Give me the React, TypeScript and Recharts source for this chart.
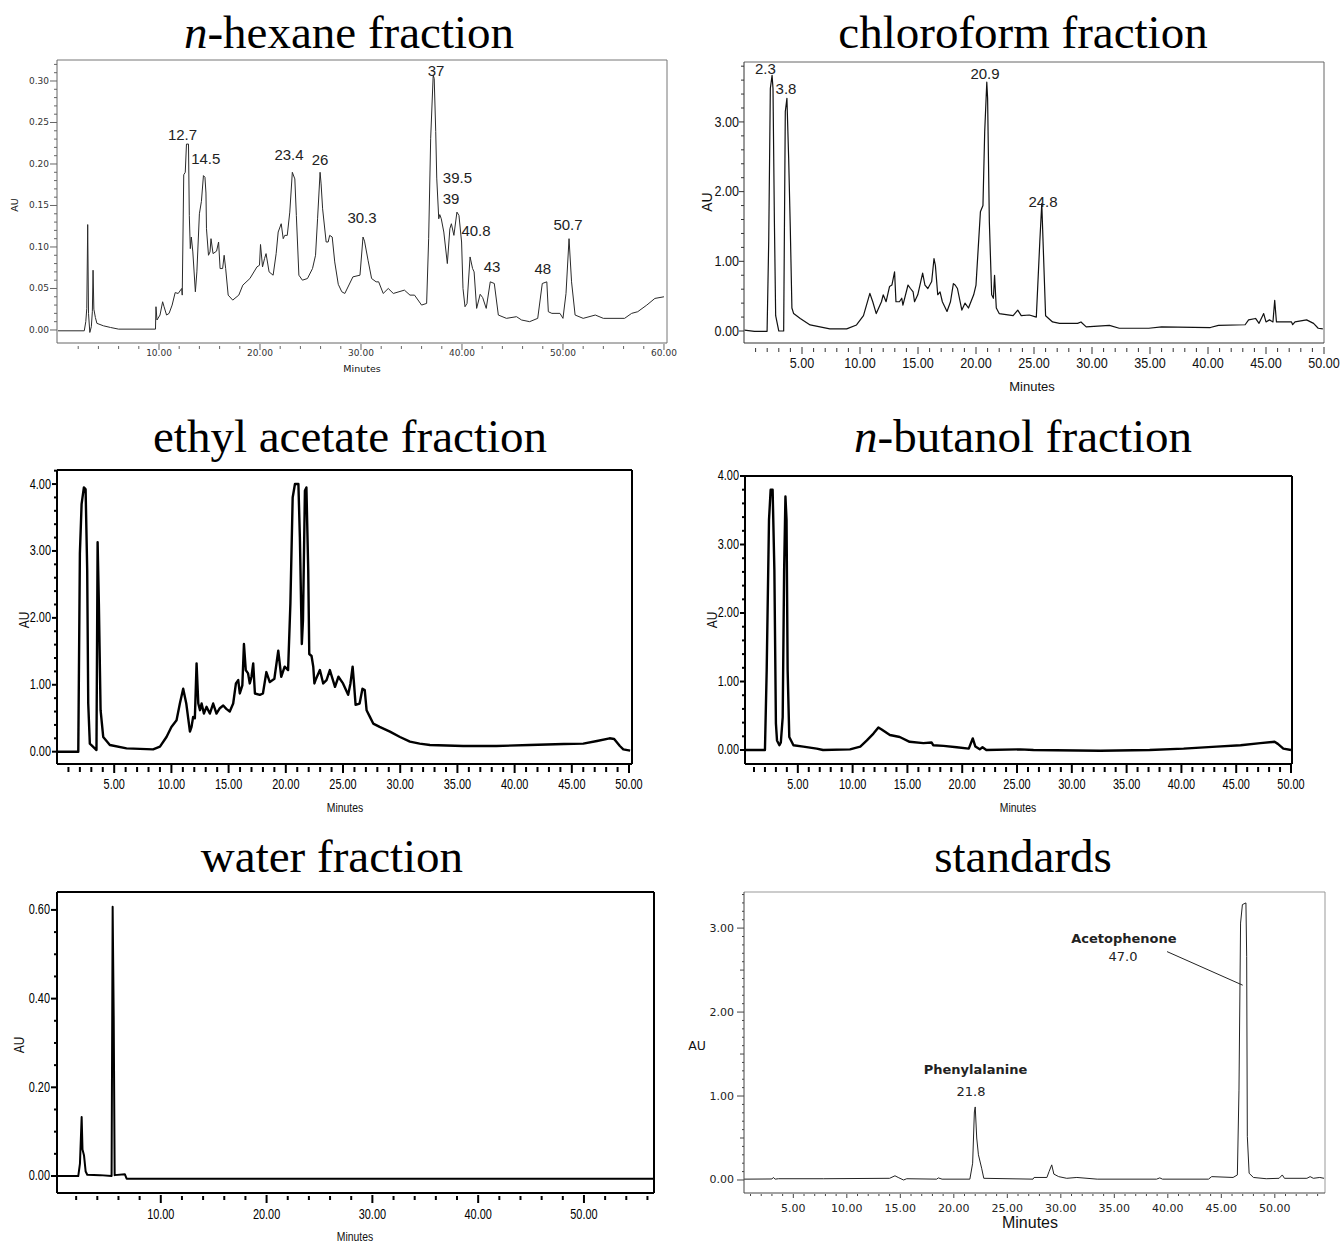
import React from "react";
import { LineChart, Line, XAxis, YAxis, ReferenceLine, ReferenceDot } from "recharts";

type Pt = [number, number]; // [retention time (min), absorbance (AU)]

const hexaneTrace: Pt[] = [
  [0, -0.001], [2.6, -0.001], [2.75, 0.01], [2.85, 0.026], [2.94, 0.127], [3.02, 0.02], [3.15, -0.003],
  [3.3, 0.004], [3.4, 0.022], [3.47, 0.072], [3.55, 0.025], [3.7, 0.015], [3.85, 0.008], [4.5, 0.005],
  [5.2, 0.003], [6, 0.001], [9.65, 0.001], [9.7, 0.028], [9.8, 0.012], [10.1, 0.018], [10.36, 0.034],
  [10.5, 0.028], [10.75, 0.018], [11.0, 0.02], [11.3, 0.03], [11.6, 0.045], [11.9, 0.044], [12.25, 0.05],
  [12.3, 0.042], [12.45, 0.187], [12.6, 0.19], [12.72, 0.224], [12.92, 0.224], [13.0, 0.138], [13.1, 0.098],
  [13.2, 0.112], [13.35, 0.094], [13.6, 0.046], [13.75, 0.07], [14.0, 0.14], [14.2, 0.155], [14.4, 0.186],
  [14.55, 0.184], [14.65, 0.165], [14.7, 0.122], [14.9, 0.09], [15.05, 0.094], [15.15, 0.11], [15.35, 0.092],
  [15.7, 0.095], [15.9, 0.106], [16.05, 0.074], [16.3, 0.074], [16.45, 0.09], [16.6, 0.074], [16.85, 0.042],
  [17.3, 0.036], [17.9, 0.042], [18.3, 0.054], [19.0, 0.062], [19.7, 0.076], [19.95, 0.078], [20.05, 0.103],
  [20.25, 0.076], [20.45, 0.086], [20.6, 0.092], [20.9, 0.07], [21.3, 0.066], [21.6, 0.092], [21.8, 0.118],
  [22.1, 0.128], [22.3, 0.11], [22.45, 0.114], [22.7, 0.114], [22.95, 0.142], [23.2, 0.19], [23.45, 0.182],
  [23.6, 0.138], [23.85, 0.066], [24.2, 0.06], [24.7, 0.062], [25.2, 0.074], [25.5, 0.09], [25.7, 0.134],
  [25.95, 0.19], [26.05, 0.176], [26.2, 0.146], [26.55, 0.106], [26.75, 0.106], [26.9, 0.114], [27.15, 0.112],
  [27.4, 0.082], [27.75, 0.055], [28.1, 0.046], [28.4, 0.044], [29.2, 0.064], [29.9, 0.066], [30.2, 0.112],
  [30.35, 0.107], [30.7, 0.084], [31.05, 0.062], [31.5, 0.058], [31.75, 0.058], [32.2, 0.044], [32.7, 0.05],
  [33.2, 0.044], [34.3, 0.048], [34.85, 0.042], [35.3, 0.042], [36.0, 0.03], [36.5, 0.032], [36.7, 0.11],
  [36.9, 0.231], [37.15, 0.307], [37.25, 0.303], [37.4, 0.239], [37.5, 0.183], [37.7, 0.134], [37.8, 0.139],
  [37.95, 0.134], [38.2, 0.118], [38.55, 0.08], [38.8, 0.122], [38.95, 0.128], [39.2, 0.114], [39.5, 0.142],
  [39.7, 0.138], [39.96, 0.106], [40.1, 0.05], [40.3, 0.028], [40.5, 0.032], [40.8, 0.088], [41.05, 0.074],
  [41.2, 0.07], [41.45, 0.026], [41.8, 0.043], [42.05, 0.039], [42.4, 0.026], [42.8, 0.058], [43.2, 0.056],
  [43.6, 0.018], [44.4, 0.014], [45.4, 0.016], [45.9, 0.012], [46.7, 0.01], [47.5, 0.014], [47.95, 0.056],
  [48.4, 0.058], [48.55, 0.022], [48.9, 0.02], [49.7, 0.02], [50.0, 0.014], [50.3, 0.044], [50.6, 0.11],
  [50.85, 0.058], [51.2, 0.018], [52.0, 0.014], [53.2, 0.018], [54.0, 0.014], [56.1, 0.014], [56.8, 0.02],
  [57.4, 0.022], [58.3, 0.03], [59.1, 0.038], [60.0, 0.04],
];

const chloroformTrace: Pt[] = [
  [0.04, 0.014], [0.9, -0.005], [1.99, -0.005], [2.13, 1.28], [2.27, 3.48], [2.42, 3.67], [2.5, 3.48],
  [2.62, 1.57], [2.73, 0.22], [3.0, 0.0], [3.42, 0.0], [3.56, 3.15], [3.7, 3.34], [3.85, 2.48], [3.99, 1.48],
  [4.13, 0.33], [4.28, 0.25], [4.85, 0.18], [5.7, 0.087], [7.4, 0.03], [8.85, 0.03], [9.7, 0.087],
  [10.3, 0.22], [10.85, 0.54], [11.1, 0.42], [11.4, 0.25], [11.85, 0.42], [12.0, 0.52], [12.25, 0.42],
  [12.55, 0.64], [12.75, 0.66], [12.98, 0.85], [13.1, 0.42], [13.4, 0.42], [13.6, 0.47], [13.7, 0.37],
  [14.14, 0.66], [14.35, 0.61], [14.58, 0.56], [14.7, 0.42], [14.98, 0.52], [15.4, 0.83], [15.6, 0.66],
  [15.85, 0.61], [16.18, 0.71], [16.38, 1.04], [16.5, 0.94], [16.7, 0.52], [16.9, 0.56], [17.1, 0.42],
  [17.5, 0.28], [17.8, 0.42], [18.05, 0.68], [18.2, 0.66], [18.4, 0.61], [18.78, 0.3], [19.05, 0.4],
  [19.35, 0.33], [19.8, 0.52], [20.0, 0.66], [20.38, 1.71], [20.6, 1.8], [20.75, 2.86], [20.93, 3.57],
  [21.0, 3.34], [21.15, 1.57], [21.35, 0.52], [21.5, 0.47], [21.6, 0.8], [21.75, 0.33], [22.0, 0.25],
  [23.2, 0.22], [23.6, 0.3], [23.9, 0.22], [24.6, 0.23], [25.2, 0.2], [25.5, 1.28], [25.67, 1.83],
  [25.82, 1.09], [26.0, 0.22], [26.6, 0.13], [27.2, 0.11], [28.76, 0.11], [29.05, 0.13], [29.5, 0.06],
  [31.5, 0.08], [32.35, 0.04], [34.9, 0.04], [36.0, 0.06], [40.2, 0.05], [40.9, 0.08], [43.2, 0.09],
  [43.5, 0.16], [44.1, 0.18], [44.4, 0.11], [44.8, 0.25], [45.0, 0.13], [45.3, 0.16], [45.6, 0.13],
  [45.75, 0.44], [45.9, 0.13], [47.2, 0.13], [47.3, 0.09], [47.5, 0.13], [48.5, 0.16], [49.1, 0.11],
  [49.5, 0.04], [49.9, 0.03],
];

const ethylAcetateTrace: Pt[] = [
  [0, 0], [1.86, 0], [2.0, 2.96], [2.15, 3.7], [2.35, 3.95], [2.5, 3.92], [2.64, 2.71], [2.73, 0.72],
  [2.87, 0.12], [3.3, 0.05], [3.45, 0.025], [3.55, 3.13], [3.66, 2.21], [3.81, 0.62], [4.04, 0.22],
  [4.62, 0.1], [6.08, 0.05], [8.4, 0.035], [9.0, 0.075], [9.57, 0.22], [10.0, 0.37], [10.45, 0.47],
  [10.74, 0.72], [11.03, 0.94], [11.3, 0.72], [11.62, 0.3], [11.76, 0.37], [11.9, 0.52], [12.05, 0.5],
  [12.2, 1.32], [12.35, 0.72], [12.5, 0.62], [12.64, 0.72], [12.84, 0.57], [13.07, 0.67], [13.36, 0.57],
  [13.65, 0.72], [13.94, 0.57], [14.23, 0.65], [14.53, 0.69], [14.8, 0.64], [15.1, 0.6], [15.4, 0.72],
  [15.64, 1.02], [15.84, 1.07], [15.98, 0.87], [16.2, 0.99], [16.34, 1.61], [16.5, 1.22], [16.7, 1.17],
  [16.85, 1.02], [17.0, 1.12], [17.15, 1.32], [17.3, 0.87], [17.73, 0.85], [18.0, 0.87], [18.3, 1.19],
  [18.6, 1.04], [19.0, 1.09], [19.34, 1.51], [19.6, 1.12], [19.9, 1.27], [20.2, 1.22], [20.4, 2.21],
  [20.6, 3.8], [20.8, 4.0], [21.1, 4.0], [21.23, 3.2], [21.4, 1.61], [21.5, 1.96], [21.67, 3.9],
  [21.8, 3.95], [21.96, 2.71], [22.05, 1.46], [22.25, 1.43], [22.4, 1.27], [22.5, 1.02], [22.6, 1.07],
  [22.98, 1.22], [23.27, 1.02], [23.56, 1.07], [23.85, 1.22], [24.3, 0.97], [24.6, 1.12], [25.0, 1.02],
  [25.45, 0.85], [25.65, 1.02], [25.84, 1.27], [25.96, 1.02], [26.1, 0.7], [26.45, 0.72], [26.7, 0.94],
  [26.9, 0.92], [27.06, 0.62], [27.35, 0.52], [27.64, 0.42], [28.2, 0.37], [29.1, 0.3], [29.98, 0.22],
  [30.85, 0.15], [31.7, 0.12], [32.6, 0.1], [35.5, 0.085], [38.4, 0.085], [41.3, 0.1], [44.3, 0.115],
  [46.0, 0.12], [47.2, 0.16], [48.3, 0.2], [48.7, 0.19], [49.2, 0.085], [49.5, 0.035], [50.1, 0.015],
];

const butanolTrace: Pt[] = [
  [0.18, 0], [2.0, 0], [2.16, 1.17], [2.37, 3.36], [2.52, 3.8], [2.7, 3.8], [2.86, 2.63], [3.0, 0.39],
  [3.1, 0.14], [3.32, 0.07], [3.45, 0.11], [3.62, 0.48], [3.75, 2.63], [3.87, 3.7], [3.97, 3.36],
  [4.07, 1.17], [4.22, 0.19], [4.6, 0.07], [5.5, 0.05], [6.72, 0.02], [7.3, 0], [9.76, 0.01], [10.7, 0.05],
  [11.3, 0.14], [11.9, 0.24], [12.35, 0.33], [12.65, 0.3], [13.4, 0.22], [14.3, 0.19], [15.2, 0.12],
  [16.46, 0.1], [17.2, 0.11], [17.35, 0.07], [18.3, 0.06], [19.5, 0.04], [20.6, 0.02], [20.96, 0.17],
  [21.2, 0.05], [21.6, 0.01], [21.85, 0.04], [22.2, 0.0], [25.3, 0.01], [26.5, 0.0], [32.6, -0.01],
  [37.1, 0.0], [40.2, 0.02], [43.2, 0.05], [45.4, 0.07], [47.2, 0.1], [48.5, 0.12], [48.8, 0.09],
  [49.3, 0.02], [50.0, 0],
];

const waterTrace: Pt[] = [
  [0.2, 0], [2.2, 0], [2.36, 0.028], [2.52, 0.133], [2.6, 0.06], [2.74, 0.047], [2.9, 0.01], [3.05, 0.003],
  [4.25, 0.002], [5.35, 0], [5.45, 0.607], [5.55, 0.36], [5.64, 0.002], [6.6, 0.004], [6.77, -0.006],
  [20, -0.006], [30, -0.006], [40, -0.006], [56.6, -0.006],
];

const standardsTrace: Pt[] = [
  [0.4, 0.01], [3.0, 0.012], [3.13, 0.03], [3.3, 0.01], [3.6, 0.015], [7.8, 0.015], [14.0, 0.02],
  [14.5, 0.05], [14.8, 0.03], [15.3, 0.0], [15.6, 0.015], [18.4, 0.01], [18.55, 0.025], [18.9, 0.01],
  [21.5, 0.01], [21.76, 0.2], [21.92, 0.81], [22.0, 0.87], [22.14, 0.5], [22.3, 0.3], [22.6, 0.14],
  [22.8, 0.02], [27.4, 0.01], [27.5, 0.03], [28.7, 0.03], [28.9, 0.1], [29.15, 0.18], [29.35, 0.07],
  [29.8, 0.04], [30.55, 0.02], [31.5, 0.03], [33.4, 0.01], [38.95, 0.01], [39.25, 0.025], [39.5, 0.01],
  [43.8, 0.01], [44.1, 0.04], [46.1, 0.03], [46.5, 0.06], [46.65, 1.07], [46.8, 3.06], [46.97, 3.28],
  [47.3, 3.3], [47.37, 2.66], [47.43, 0.52], [47.6, 0.08], [48.0, 0.03], [49.2, 0.015], [50.4, 0.02],
  [50.7, 0.06], [50.9, 0.02], [53.0, 0.02], [53.3, 0.04], [53.6, 0.02], [54.2, 0.03], [54.6, 0.02],
];

interface Note { text: string; t: number; v: number; bold?: boolean }

// retention-time labels, anchored at (min, AU) of the label centre
const hexaneNotes: Note[] = [
  { text: "12.7", t: 12.33, v: 0.235 }, { text: "14.5", t: 14.63, v: 0.207 },
  { text: "23.4", t: 22.87, v: 0.211 }, { text: "26", t: 25.94, v: 0.205 },
  { text: "30.3", t: 30.1, v: 0.135 }, { text: "37", t: 37.43, v: 0.313 },
  { text: "39.5", t: 39.55, v: 0.184 }, { text: "39", t: 38.91, v: 0.159 },
  { text: "40.8", t: 41.39, v: 0.12 }, { text: "43", t: 42.97, v: 0.076 },
  { text: "48", t: 48.0, v: 0.0735 }, { text: "50.7", t: 50.5, v: 0.127 },
];

const chloroformNotes: Note[] = [
  { text: "2.3", t: 1.85, v: 3.76 }, { text: "3.8", t: 3.62, v: 3.48 },
  { text: "20.9", t: 20.78, v: 3.7 }, { text: "24.8", t: 25.78, v: 1.865 },
];

const standardsNotes: Note[] = [
  { text: "Phenylalanine", t: 22.03, v: 1.31, bold: true }, { text: "21.8", t: 21.61, v: 1.048 },
  { text: "Acetophenone", t: 35.9, v: 2.873, bold: true }, { text: "47.0", t: 35.81, v: 2.667 },
];

const acetophenoneLeader = [{ x: 39.93, y: 2.72 }, { x: 47.0, y: 2.32 }];

const range = (a: number, b: number, s: number) => {
  const out: number[] = [];
  for (let i = 0; a + i * s <= b + 1e-9; i++) out.push(Math.round((a + i * s) * 1000) / 1000);
  return out;
};
const onStep = (v: number, s?: number) => !!s && Math.abs(v / s - Math.round(v / s)) < 1e-6;

interface TickCfg {
  ticks: number[]; major: number; mid?: number;
  gap: number; minor: number; majorLen: number; midLen?: number; majorGap?: number; off: number;
}

interface Txt { x: number; y: number; size: number; font: string; sx?: number; rotate?: boolean }

interface PanelCfg {
  key: string; title: React.ReactNode; titleX: number; titleBase: number;
  box: { left: number; top: number; width: number; height: number };
  plot: { l: number; r: number; t: number; b: number };
  xDomain: [number, number]; yDomain: [number, number];
  x: TickCfg; y: TickCfg;
  trace: Pt[]; lineColor: string; lineWidth: number;
  axisColor: string; axisWidth: number; frameColor: string; frameWidth: number;
  font: string; size: number; sx: number; fill: string;
  au: Txt; minutes: Txt;
  notes?: Note[]; noteFont?: string; noteSize?: number; leader?: { x: number; y: number }[];
}

const SANS = "'Liberation Sans', Arial, sans-serif";
const DEJAVU = "'DejaVu Sans', sans-serif";

const boldTicks = (ticks: number[], major: number): TickCfg => ({
  ticks, major, gap: 3, minor: 5, majorLen: 8, majorGap: 1, off: 21,
});

const panels: PanelCfg[] = [
  {
    key: "hexane", title: <><i>n</i>-hexane fraction</>, titleX: 349, titleBase: 48,
    box: { left: 0, top: 50, width: 690, height: 340 }, plot: { l: 57, r: 667, t: 60, b: 343 },
    xDomain: [-0.1, 60.3], yDomain: [-0.0157, 0.3253],
    x: { ticks: range(2, 60, 2), major: 10, gap: 3, minor: 3, majorLen: 6, majorGap: 1, off: 10 },
    y: { ticks: range(0, 0.32, 0.01), major: 0.05, gap: 0, minor: 3, majorLen: 7, off: 8 },
    trace: hexaneTrace, lineColor: "#2a2a2a", lineWidth: 1,
    axisColor: "#666", axisWidth: 1, frameColor: "#777", frameWidth: 1,
    font: DEJAVU, size: 9, sx: 1, fill: "#333",
    au: { x: 15, y: 205, size: 9.5, font: DEJAVU, rotate: true },
    minutes: { x: 362, y: 369, size: 9.5, font: DEJAVU },
    notes: hexaneNotes, noteFont: SANS, noteSize: 15,
  },
  {
    key: "chloroform", title: "chloroform fraction", titleX: 1023, titleBase: 48,
    box: { left: 690, top: 52, width: 650, height: 340 }, plot: { l: 744, r: 1324, t: 62, b: 343 },
    xDomain: [0, 50], yDomain: [-0.172, 3.86],
    x: { ticks: range(1, 50, 1), major: 5, gap: 5, minor: 4, majorLen: 7, majorGap: 4, off: 20 },
    y: { ticks: range(0, 3.8, 0.2), major: 1, gap: 0, minor: 3, majorLen: 5, off: 5 },
    trace: chloroformTrace, lineColor: "#111", lineWidth: 1.2,
    axisColor: "#333", axisWidth: 1, frameColor: "#666", frameWidth: 1,
    font: SANS, size: 14, sx: 0.9, fill: "#111",
    au: { x: 707, y: 202, size: 14, font: SANS, rotate: true },
    minutes: { x: 1032, y: 386, size: 13, font: SANS },
    notes: chloroformNotes, noteFont: SANS, noteSize: 15,
  },
  {
    key: "ethyl", title: "ethyl acetate fraction", titleX: 350, titleBase: 452,
    box: { left: 0, top: 460, width: 660, height: 360 }, plot: { l: 57, r: 632, t: 470, b: 764 },
    xDomain: [0, 50.26], yDomain: [-0.184, 4.21],
    x: boldTicks(range(1, 50, 1), 5),
    y: { ticks: range(0, 4.2, 0.2), major: 1, gap: 0, minor: 3, majorLen: 5, off: 6 },
    trace: ethylAcetateTrace, lineColor: "#000", lineWidth: 2.4,
    axisColor: "#000", axisWidth: 2, frameColor: "#000", frameWidth: 2,
    font: SANS, size: 14, sx: 0.78, fill: "#000",
    au: { x: 23, y: 620, size: 15, font: SANS, sx: 0.8, rotate: true },
    minutes: { x: 345, y: 807, size: 13, font: SANS, sx: 0.8 },
  },
  {
    key: "butanol", title: <><i>n</i>-butanol fraction</>, titleX: 1023, titleBase: 452,
    box: { left: 690, top: 466, width: 640, height: 354 }, plot: { l: 745, r: 1292, t: 476, b: 764 },
    xDomain: [0.18, 50.09], yDomain: [-0.204, 4.0],
    x: boldTicks(range(1, 50, 1), 5),
    y: { ticks: range(0, 4.0, 0.2), major: 1, gap: 0, minor: 3, majorLen: 5, off: 6 },
    trace: butanolTrace, lineColor: "#000", lineWidth: 2.4,
    axisColor: "#000", axisWidth: 2, frameColor: "#000", frameWidth: 2,
    font: SANS, size: 14, sx: 0.78, fill: "#000",
    au: { x: 711, y: 620, size: 15, font: SANS, sx: 0.8, rotate: true },
    minutes: { x: 1018, y: 807, size: 13, font: SANS, sx: 0.8 },
  },
  {
    key: "water", title: "water fraction", titleX: 332, titleBase: 872,
    box: { left: 0, top: 882, width: 670, height: 365 }, plot: { l: 57, r: 654, t: 892, b: 1193 },
    xDomain: [0.19, 56.62], yDomain: [-0.0383, 0.6404],
    x: { ticks: range(2, 56, 2), major: 10, gap: 3, minor: 4, majorLen: 8, majorGap: 2, off: 22 },
    y: { ticks: range(0, 0.6, 0.05), major: 0.2, gap: 0, minor: 3, majorLen: 6, off: 7 },
    trace: waterTrace, lineColor: "#000", lineWidth: 2,
    axisColor: "#000", axisWidth: 2, frameColor: "#000", frameWidth: 2,
    font: SANS, size: 14, sx: 0.78, fill: "#000",
    au: { x: 18, y: 1045, size: 15, font: SANS, sx: 0.8, rotate: true },
    minutes: { x: 355, y: 1236, size: 13, font: SANS, sx: 0.8 },
  },
  {
    key: "standards", title: "standards", titleX: 1023, titleBase: 872,
    box: { left: 690, top: 882, width: 650, height: 365 }, plot: { l: 744, r: 1325, t: 892, b: 1193 },
    xDomain: [0.39, 54.69], yDomain: [-0.155, 3.43],
    x: { ticks: range(1, 54, 1), major: 5, gap: 1, minor: 2, majorLen: 4, off: 15 },
    y: { ticks: range(0, 3.4, 0.1), major: 1, mid: 0.5, gap: 0, minor: 2, midLen: 4, majorLen: 7, off: 10 },
    trace: standardsTrace, lineColor: "#222", lineWidth: 1,
    axisColor: "#444", axisWidth: 1, frameColor: "#999", frameWidth: 1,
    font: DEJAVU, size: 11, sx: 1, fill: "#222",
    au: { x: 697, y: 1046, size: 12.5, font: DEJAVU },
    minutes: { x: 1030, y: 1223, size: 16, font: SANS },
    notes: standardsNotes, noteFont: DEJAVU, noteSize: 13, leader: acetophenoneLeader,
  },
];

function HtmlText({ t, children }: { t: Txt; children: React.ReactNode }) {
  const tf = `translate(-50%,-50%)${t.rotate ? " rotate(-90deg)" : ""}${t.sx ? ` scaleX(${t.sx})` : ""}`;
  return (
    <div
      style={{
        position: "absolute", left: t.x, top: t.y, transform: tf, fontFamily: t.font,
        fontSize: t.size, lineHeight: 1, whiteSpace: "nowrap", color: "#111",
      }}
    >
      {children}
    </div>
  );
}

function Panel({ c }: { c: PanelCfg }) {
  const data = c.trace.map(([t, v]) => ({ t, v }));
  const label = (x: number, y: number, value: number, anchor: string) => (
    <text
      transform={`translate(${x},${y}) scale(${c.sx},1)`}
      textAnchor={anchor}
      dominantBaseline="central"
      fontFamily={c.font}
      fontSize={c.size}
      fill={c.fill}
    >
      {value.toFixed(2)}
    </text>
  );

  const xTick = (p: any) => {
    const v = p.payload.value;
    const major = onStep(v, c.x.major);
    const gap = major ? c.x.majorGap ?? c.x.gap : c.x.gap;
    const len = major ? c.x.majorLen : c.x.minor;
    return (
      <g>
        <line x1={p.x} x2={p.x} y1={p.y + gap} y2={p.y + gap + len} stroke={c.axisColor} strokeWidth={c.axisWidth} />
        {major && label(p.x, p.y + c.x.off, v, "middle")}
      </g>
    );
  };

  const yTick = (p: any) => {
    const v = p.payload.value;
    const major = onStep(v, c.y.major);
    const mid = !major && onStep(v, c.y.mid);
    const len = major ? c.y.majorLen : mid ? c.y.midLen ?? c.y.minor : c.y.minor;
    return (
      <g>
        <line x1={p.x - len} x2={p.x} y1={p.y} y2={p.y} stroke={c.axisColor} strokeWidth={c.axisWidth} />
        {major && label(p.x - c.y.off, p.y, v, "end")}
      </g>
    );
  };

  const { box, plot } = c;
  return (
    <>
      <div
        style={{
          position: "absolute", left: c.titleX - 350, width: 700, top: c.titleBase - 39.4,
          textAlign: "center", fontFamily: "'Liberation Serif', 'Times New Roman', serif",
          fontSize: 47, lineHeight: "47px", whiteSpace: "nowrap", color: "#000",
        }}
      >
        {c.title}
      </div>
      <div style={{ position: "absolute", left: box.left, top: box.top }}>
        <LineChart
          width={box.width}
          height={box.height}
          data={data}
          margin={{ top: plot.t - box.top, right: box.left + box.width - plot.r, bottom: 0, left: 0 }}
        >
          <XAxis
            dataKey="t"
            type="number"
            domain={c.xDomain}
            allowDataOverflow
            ticks={c.x.ticks}
            interval={0}
            tickSize={0}
            tickMargin={0}
            tickLine={false}
            height={box.top + box.height - plot.b}
            axisLine={{ stroke: c.axisColor, strokeWidth: c.axisWidth }}
            tick={xTick}
          />
          <YAxis
            type="number"
            domain={c.yDomain}
            allowDataOverflow
            ticks={c.y.ticks}
            interval={0}
            tickSize={0}
            tickMargin={0}
            tickLine={false}
            width={plot.l - box.left}
            axisLine={{ stroke: c.axisColor, strokeWidth: c.axisWidth }}
            tick={yTick}
          />
          <ReferenceLine y={c.yDomain[1]} stroke={c.frameColor} strokeWidth={c.frameWidth} ifOverflow="visible" />
          <ReferenceLine x={c.xDomain[1]} stroke={c.frameColor} strokeWidth={c.frameWidth} ifOverflow="visible" />
          <Line
            dataKey="v"
            type="linear"
            dot={false}
            activeDot={false}
            stroke={c.lineColor}
            strokeWidth={c.lineWidth}
            strokeLinejoin="round"
            isAnimationActive={false}
          />
          {c.leader && (
            <ReferenceLine segment={c.leader} stroke="#222" strokeWidth={1} ifOverflow="visible" />
          )}
          {(c.notes || []).map((n) => (
            <ReferenceDot
              key={n.text}
              x={n.t}
              y={n.v}
              r={0}
              ifOverflow="visible"
              shape={(p: any) => (
                <text
                  x={p.cx}
                  y={p.cy}
                  textAnchor="middle"
                  dominantBaseline="central"
                  fontFamily={c.noteFont}
                  fontWeight={n.bold ? "bold" : "normal"}
                  fontSize={c.noteSize}
                  fill="#222"
                >
                  {n.text}
                </text>
              )}
            />
          ))}
        </LineChart>
      </div>
      <HtmlText t={c.au}>AU</HtmlText>
      <HtmlText t={c.minutes}>Minutes</HtmlText>
    </>
  );
}

export default function App() {
  return (
    <div
      style={{
        position: "absolute", left: 0, top: 0, width: 1340, height: 1247,
        background: "#fff", overflow: "hidden",
      }}
    >
      {panels.map((c) => (
        <Panel key={c.key} c={c} />
      ))}
    </div>
  );
}
